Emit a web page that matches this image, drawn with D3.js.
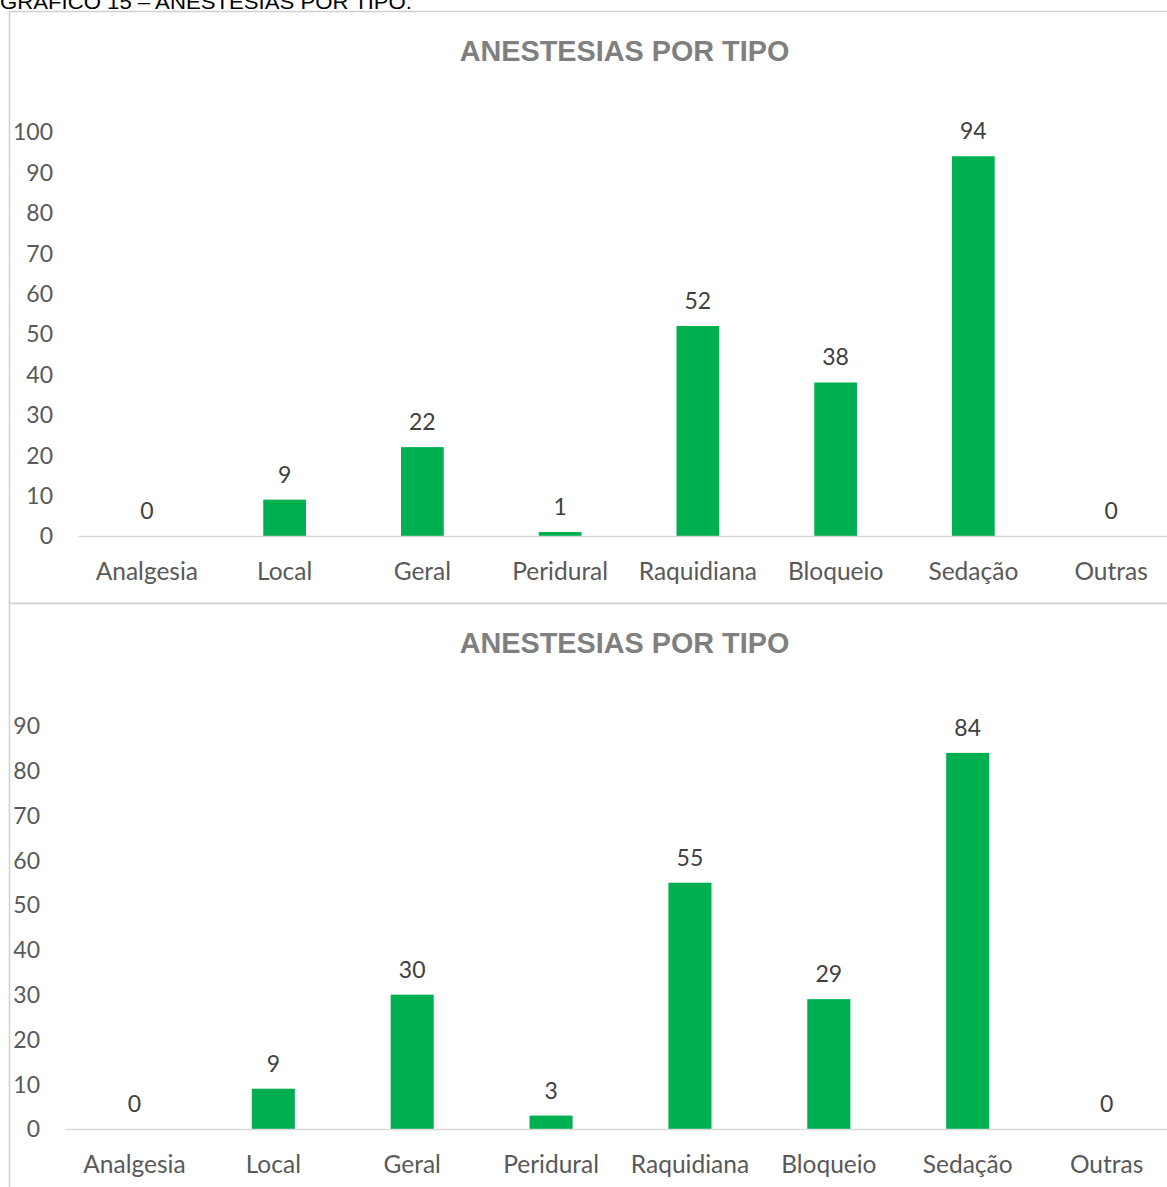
<!DOCTYPE html>
<html>
<head>
<meta charset="utf-8">
<script src="https://cdn.jsdelivr.net/npm/d3@7"></script>
<style>
  body { margin: 0; background: #fff; }
  svg { display: block; }
</style>
</head>
<body>
<div id="chart"></div>
<script>
var categories = ["Analgesia", "Local", "Geral", "Peridural", "Raquidiana", "Bloqueio", "Sedação", "Outras"];
var values1 = [0, 9, 22, 1, 52, 38, 94, 0];
var values2 = [0, 9, 30, 3, 55, 29, 84, 0];
var ticks1 = [0, 10, 20, 30, 40, 50, 60, 70, 80, 90, 100];
var ticks2 = [0, 10, 20, 30, 40, 50, 60, 70, 80, 90];
var chartTitle = "ANESTESIAS POR TIPO";
var pageCaption = "GRÁFICO 15 – ANESTESIAS POR TIPO.";

var W = 1167, H = 1187;
var labelFont = "Lato, 'Open Sans', sans-serif";

var svg = d3.select("#chart").append("svg")
	.attr("width", W)
	.attr("height", H);

// caption at the very top, mostly cut off (as in the scan)
svg.append("text")
	.attr("x", 0)
	.attr("y", 9)
	.attr("textLength", 412)
	.attr("lengthAdjust", "spacingAndGlyphs")
	.style("font-family", "'Liberation Sans', Arial, sans-serif")
	.style("font-size", "21px")
	.attr("fill", "#000")
	.text(pageCaption);

function drawChart(opt) {
	var g = svg.append("g");

	g.append("rect")
		.attr("x", 9.5)
		.attr("y", opt.top + 0.5)
		.attr("width", 1180)
		.attr("height", opt.height)
		.attr("fill", "#fff")
		.attr("stroke", "#d0d0d0")
		.attr("stroke-width", 1.5);

	g.append("text")
		.attr("x", 624.5)
		.attr("y", opt.titleY)
		.attr("text-anchor", "middle")
		.style("font-family", "'Liberation Sans', Arial, sans-serif")
		.style("font-weight", "bold")
		.style("font-size", "28.8px")
		.attr("fill", "#7f7f7f")
		.text(chartTitle);

	var x = d3.scaleBand()
		.domain(categories)
		.range([opt.x0, opt.x1])
		.paddingInner(0.69)
		.paddingOuter(0.345);

	var y = d3.scaleLinear()
		.domain([0, d3.max(opt.ticks)])
		.range([opt.y0, opt.y1]);

	// y tick labels, no axis line
	var yAxis = d3.axisLeft(y).tickValues(opt.ticks).tickSize(0).tickPadding(0);
	var ya = g.append("g")
		.attr("transform", "translate(" + opt.yLabelX + ",0.5)")
		.call(yAxis);
	ya.select(".domain").remove();
	ya.selectAll("text")
		.style("font-family", labelFont)
		.style("font-size", "23px")
		.attr("fill", "#595959");

	// bars
	g.selectAll(".bar")
		.data(opt.values)
		.enter().append("rect")
		.attr("class", "bar")
		.attr("x", function(d, i) { return x(categories[i]); })
		.attr("width", x.bandwidth())
		.attr("y", function(d) { return y(d); })
		.attr("height", function(d) { return y(0) - y(d); })
		.attr("fill", "#00b050");

	// category axis
	var xAxis = d3.axisBottom(x).tickSize(0).tickPadding(27);
	var xa = g.append("g")
		.attr("transform", "translate(0," + y(0) + ")")
		.call(xAxis);
	xa.select(".domain")
		.attr("stroke", "#d9d9d9")
		.attr("stroke-width", 1.5);
	xa.selectAll("text")
		.style("font-family", labelFont)
		.style("font-size", "24.5px")
		.attr("fill", "#595959");

	// value labels
	g.selectAll(".val")
		.data(opt.values)
		.enter().append("text")
		.attr("class", "val")
		.attr("x", function(d, i) { return x(categories[i]) + x.bandwidth() / 2; })
		.attr("y", function(d) { return y(d) - 17; })
		.attr("text-anchor", "middle")
		.style("font-family", labelFont)
		.style("font-size", "23px")
		.attr("fill", "#404040")
		.text(function(d) { return d; });
}

drawChart({
	top: 11, height: 592, titleY: 61,
	values: values1, ticks: ticks1,
	x0: 78, x1: 1180, y0: 536, y1: 132, yLabelX: 53
});

drawChart({
	top: 603, height: 600, titleY: 653,
	values: values2, ticks: ticks2,
	x0: 65, x1: 1176, y0: 1129, y1: 726, yLabelX: 40
});
</script>
</body>
</html>
